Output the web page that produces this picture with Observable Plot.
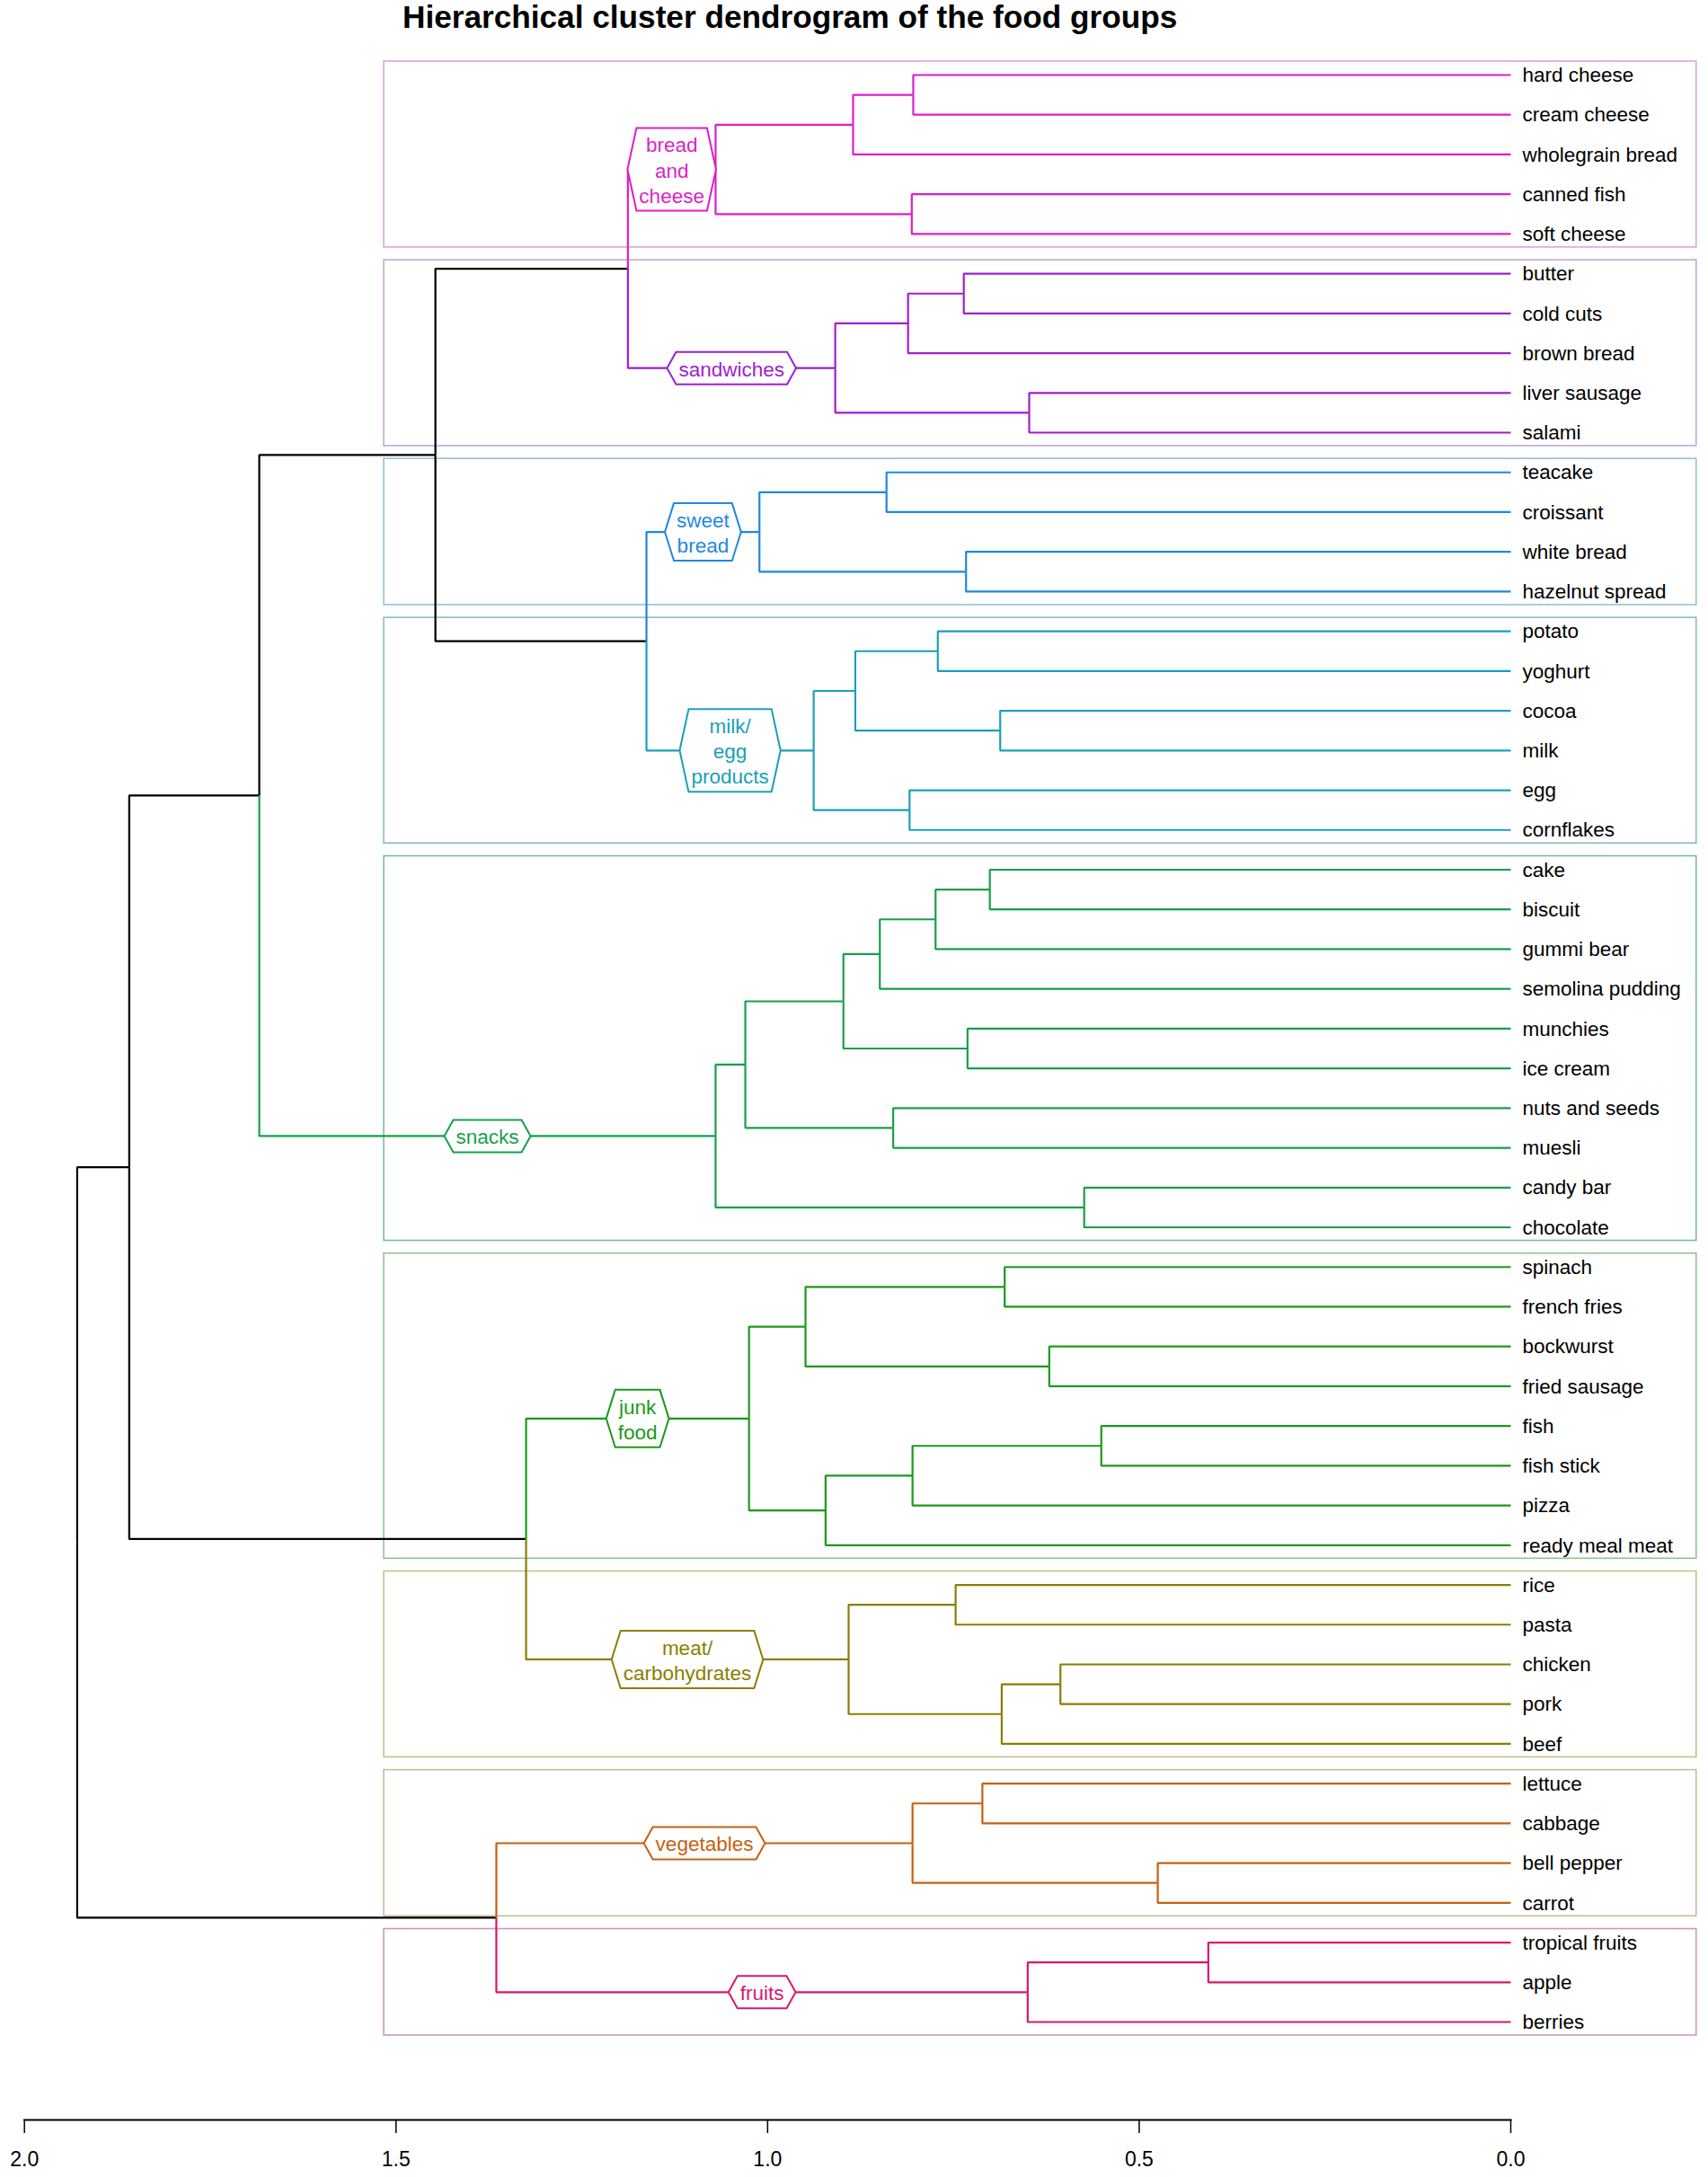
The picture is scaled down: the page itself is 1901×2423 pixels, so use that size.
<!DOCTYPE html>
<html><head><meta charset="utf-8">
<script src="https://cdn.jsdelivr.net/npm/d3@7"></script>
<script src="https://cdn.jsdelivr.net/npm/@observablehq/plot@0.6"></script>
<style>
body{margin:0;background:#fff;}
#wrap{position:relative;width:1901px;height:2423px;}
#title{position:absolute;left:448px;top:-1px;font:bold 35.2px/40px "Liberation Sans",Arial,sans-serif;color:#000;white-space:nowrap;z-index:2;}
#chart{position:absolute;left:0;top:0;}
</style></head><body>
<div id="wrap"><div id="title">Hierarchical cluster dendrogram of the food groups</div><div id="chart"></div></div>
<script>
// ---- data ----
const leaves = ["hard cheese","cream cheese","wholegrain bread","canned fish","soft cheese",
  "butter","cold cuts","brown bread","liver sausage","salami",
  "teacake","croissant","white bread","hazelnut spread",
  "potato","yoghurt","cocoa","milk","egg","cornflakes",
  "cake","biscuit","gummi bear","semolina pudding","munchies","ice cream","nuts and seeds","muesli","candy bar","chocolate",
  "spinach","french fries","bockwurst","fried sausage","fish","fish stick","pizza","ready meal meat",
  "rice","pasta","chicken","pork","beef",
  "lettuce","cabbage","bell pepper","carrot",
  "tropical fruits","apple","berries"];

// merges: [left, right, height]; "mK" refers to the K-th merge
const merges = [
  ["hard cheese","cream cheese",0.804],   // m0
  ["m0","wholegrain bread",0.885],        // m1
  ["canned fish","soft cheese",0.806],    // m2
  ["m1","m2",1.070],                      // m3 bread and cheese
  ["butter","cold cuts",0.736],           // m4
  ["m4","brown bread",0.811],             // m5
  ["liver sausage","salami",0.648],       // m6
  ["m5","m6",0.909],                      // m7 sandwiches
  ["m3","m7",1.188],                      // m8
  ["teacake","croissant",0.840],          // m9
  ["white bread","hazelnut spread",0.733],// m10
  ["m9","m10",1.011],                     // m11 sweet bread
  ["potato","yoghurt",0.771],             // m12
  ["cocoa","milk",0.687],                 // m13
  ["m12","m13",0.882],                    // m14
  ["egg","cornflakes",0.809],             // m15
  ["m14","m15",0.938],                    // m16 milk/egg products
  ["m11","m16",1.163],                    // m17
  ["m8","m17",1.447],                     // m18
  ["cake","biscuit",0.701],               // m19
  ["m19","gummi bear",0.774],             // m20
  ["m20","semolina pudding",0.849],       // m21
  ["munchies","ice cream",0.731],         // m22
  ["m21","m22",0.898],                    // m23
  ["nuts and seeds","muesli",0.831],      // m24
  ["m23","m24",1.030],                    // m25
  ["candy bar","chocolate",0.574],        // m26
  ["m25","m26",1.070],                    // m27 snacks
  ["m18","m27",1.684],                    // m28
  ["spinach","french fries",0.681],       // m29
  ["bockwurst","fried sausage",0.621],    // m30
  ["m29","m30",0.949],                    // m31
  ["fish","fish stick",0.551],            // m32
  ["m32","pizza",0.805],                  // m33
  ["m33","ready meal meat",0.922],        // m34
  ["m31","m34",1.025],                    // m35 junk food
  ["rice","pasta",0.747],                 // m36
  ["chicken","pork",0.606],               // m37
  ["m37","beef",0.685],                   // m38
  ["m36","m38",0.891],                    // m39 meat/carbohydrates
  ["m35","m39",1.325],                    // m40
  ["m28","m40",1.859],                    // m41
  ["lettuce","cabbage",0.711],            // m42
  ["bell pepper","carrot",0.475],         // m43
  ["m42","m43",0.805],                    // m44 vegetables
  ["tropical fruits","apple",0.407],      // m45
  ["m45","berries",0.650],                // m46 fruits
  ["m44","m46",1.365],                    // m47
  ["m41","m47",1.929]                     // m48 root
];

const groupLabels = ["bread\nand\ncheese","sandwiches","sweet\nbread","milk/\negg\nproducts","snacks","junk\nfood","meat/\ncarbohydrates","vegetables","fruits"];
const groupRoots  = ["m3","m7","m11","m16","m27","m35","m39","m44","m46"];
const groupColors = ["#DD1FC8","#A01ED2","#1F88E0","#1AA0B8","#17A04A","#1A9A1A","#8C7D00","#C8600F","#D8186E"];
const boxColors   = ["#D9A6D9","#C3A8D3","#95C3D5","#86BDC7","#7BBBA6","#8FC48F","#C9C08E","#CDB996","#CC9ABE"];
const axisTicks   = [2.0, 1.5, 1.0, 0.5, 0.0];

// ---- tree layout ----
const nodes = new Map();
leaves.forEach((name, i) => nodes.set(name, {id: name, h: 0, y: i, children: null, first: i, last: i}));
merges.forEach(([a, b, h], k) => {
  const A = nodes.get(a), B = nodes.get(b);
  nodes.set("m" + k, {id: "m" + k, h, y: (A.y + B.y) / 2, children: [A, B],
    first: Math.min(A.first, B.first), last: Math.max(A.last, B.last)});
});
const root = nodes.get("m" + (merges.length - 1));
function paint(node, color) { node.color = color; if (node.children) node.children.forEach(c => paint(c, color)); }
paint(root, "#000000");
groupRoots.forEach((r, i) => paint(nodes.get(r), groupColors[i]));

const edges = []; let eid = 0;
(function walk(node) {
  if (!node.children) return;
  node.children.forEach(c => {
    c.parent = node;
    edges.push({id: eid, x: node.h, y: node.y, color: c.color},
               {id: eid, x: node.h, y: c.y, color: c.color},
               {id: eid, x: c.h, y: c.y, color: c.color});
    eid++;
    walk(c);
  });
})(root);

const boxes = groupRoots.map((r, i) => ({y1: nodes.get(r).first, y2: nodes.get(r).last, color: boxColors[i]}));
const labels = groupRoots.map((r, i) => {
  const n = nodes.get(r);
  return {x: (n.parent.h + n.h) / 2, y: n.y, text: groupLabels[i], color: groupColors[i]};
});

const fontFamily = '"Liberation Sans", Arial, Helvetica, sans-serif';
const ctx = document.createElement("canvas").getContext("2d");
ctx.font = `22.5px ${fontFamily}`;
function hexSymbol(text) {
  const lines = text.split("\n");
  const w = Math.max(...lines.map(l => ctx.measureText(l).width));
  const hw = w / 2 + 3, tip = 10, hh = (lines.length * 28 + 8) / 2;
  return {draw(c) {
    c.moveTo(-hw - tip, 0); c.lineTo(-hw, -hh); c.lineTo(hw, -hh);
    c.lineTo(hw + tip, 0); c.lineTo(hw, hh); c.lineTo(-hw, hh); c.closePath();
  }};
}

const chart = Plot.plot({
  width: 1901, height: 2423,
  marginLeft: 26.7, marginRight: 220, marginTop: 0, marginBottom: 64,
  x: {domain: [2, 0]},
  y: {domain: [0, leaves.length - 1], range: [83, 2250], axis: null},
  color: {type: "identity"},
  style: {fontFamily, background: "white", color: "black", overflow: "visible"},
  marks: [
    Plot.rect(boxes, {x1: 1.516, x2: -0.25, y1: "y1", y2: "y2", insetTop: -15, insetBottom: -15,
      stroke: "color", fill: "none", strokeWidth: 1.6}),
    Plot.line(edges, {x: "x", y: "y", z: "id", stroke: "color", strokeWidth: 2.2,
      strokeLinejoin: "miter", strokeLinecap: "butt"}),
    ...labels.map(d => Plot.dot([d], {x: "x", y: "y", symbol: hexSymbol(d.text), r: 10,
      fill: "white", stroke: d.color, strokeWidth: 2})),
    Plot.text(labels, {x: "x", y: "y", text: "text", fill: "color", fontSize: 22.5, lineHeight: 1.25}),
    Plot.text(leaves, {x: 0, y: (d, i) => i, text: d => d, textAnchor: "start", dx: 13, dy: 0.5,
      fontSize: 22.5, fill: "black"}),
    Plot.frame({anchor: "bottom", stroke: "black", strokeWidth: 2.2}),
    Plot.axisX(axisTicks, {anchor: "bottom", tickFormat: d3.format(".1f"), tickSize: 15, tickPadding: 20,
      fontSize: 23, label: null, stroke: "black", strokeWidth: 1.5, fill: "black"})
  ]
});
document.getElementById("chart").appendChild(chart);
</script>
</body></html>
